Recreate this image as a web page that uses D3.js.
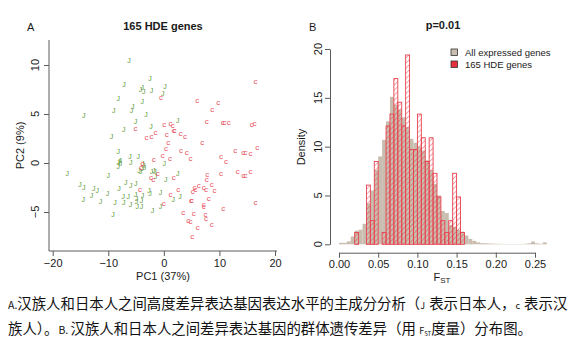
<!DOCTYPE html>
<html><head><meta charset="utf-8">
<script src="https://cdn.jsdelivr.net/npm/d3@7"></script>
<style>body{margin:0;background:#fff}svg{display:block}</style>
</head><body><svg id="c" width="576" height="364"></svg>
<script>
// ---- Panel A: PCA of 165 HDE genes ----
const japanX=[-6.25,-2.5,-7.15,0.2,-4.2,-3.9,-3.6,-2.2,-0.2,-8.2,-3.9,-5.6,-5.8,-9.0,-3.2,-14.4,-5.1,2.5,-7.2,-2.3,-9.4,
 -8.2,-6.1,-4.6,0.05,-8.2,-8.05,-7.8,-8.2,-5.95,-3.8,-3.6,-3.5,-4.45,-4.2,-3.9,-17.4,-10.0,-1.8,2.5,0.35,-15.1,-14.4,-12.6,-12.0,
 -6.85,-5.95,-5.05,-8.05,-10.15,-13.0,-14.5,-11.4,-8.8,-7.3,-6.4,-5.1,-4.9,-3.85,-4.0,-2.65,-0.6,2.9,1.7,-7.2,-6.0,-4.9,-4.8,-4.0,
 -0.6,-2.05,-9.15,-1.5,-2.2,-2.5,-7.9,-1.6];
const japanY=[10.5,8.6,8.0,7.8,7.5,7.7,7.3,7.4,7.1,6.6,6.3,5.8,5.4,5.4,4.9,4.8,4.2,4.3,3.4,3.7,2.7,
 1.2,0.65,0.65,0.0,0.05,0.15,0.0,-0.4,0.07,0.0,-0.3,-0.5,-0.8,-0.9,-0.6,-1.05,-1.3,-0.8,-1.05,-1.7,-2.15,-2.5,-2.65,-2.8,
 -2.0,-2.25,-2.1,-2.65,-3.15,-3.3,-3.7,-3.95,-4.05,-3.4,-3.4,-3.2,-3.6,-3.3,-3.8,-2.85,-3.0,-3.4,-3.7,-4.05,-4.2,-3.95,-4.45,-4.4,
 -4.4,-4.85,-5.3,-1.4,-0.9,-3.1,0.25,-0.9];
const hanX=[16.5,-0.5,6.0,9.8,8.7,7.7,10.6,10.9,11.7,15.8,16.3,-5.1,0.05,1.2,1.6,-1.5,-3.1,-2.2,0.5,1.9,3.0,3.8,0.8,6.9,0.4,3.1,4.1,
 -0.2,1.1,4.8,-1.8,10.3,11.2,12.85,14.3,14.7,15.6,16.8,-3.9,-4.1,-1.1,-2.3,-1.9,1.8,7.8,10.3,13.3,14.3,14.7,15.6,7.7,6.3,8.6,7.2,
 5.5,5.7,7.6,9.1,5.2,-4.3,2.6,1.2,8.1,4.9,7.2,7.2,0.0,16.5,10.7,3.5,5.4,7.5,7.6,4.4,4.8,8.6,6.1,5.1,1.8,5.0];
const hanY=[8.3,6.7,6.4,6.2,5.5,4.2,4.1,4.1,4.1,3.9,4.05,3.5,3.9,4.05,3.8,3.1,2.6,2.7,2.9,3.3,3.0,2.7,2.1,2.1,1.5,1.25,1.05,
 0.75,0.5,0.5,0.4,0.7,0.2,1.25,1.05,1.05,1.0,1.6,-0.1,-0.5,-1.05,-1.5,-1.7,-1.5,-1.15,-1.05,-0.9,-1.3,-1.3,-0.9,-1.7,-2.25,-2.2,-2.5,
 -2.5,-2.7,-2.7,-2.85,-2.9,-2.75,-2.75,-3.2,-3.6,-3.8,-4.2,-4.45,-4.1,-4.0,-4.6,-5.1,-5.2,-5.3,-5.7,-5.9,-6.0,-6.3,-6.6,-7.5,3.3,-3.85];
const pcXTicks=[-20,-10,0,10,20];
const pcYTicks=[-5,0,5,10];

// ---- Panel B: FST histograms ----
const binStarts=[0.000,0.005,0.010,0.015,0.020,0.025,0.030,0.035,0.040,0.045,0.050,0.055,0.060,0.065,0.070,0.075,0.080,0.085,0.090,0.095,
 0.100,0.105,0.110,0.115,0.120,0.125,0.130,0.135,0.140,0.145,0.150,0.155,0.160,0.165,0.170,0.175,0.180,0.185,0.190,0.195,
 0.200,0.205,0.210,0.215,0.220,0.225,0.230,0.235,0.240,0.245,0.250,0.255,0.260];
const allDensity=[0.15,0.15,0.3,0.8,1.4,1.5,2.1,4.2,5.5,7.6,9.0,10.7,12.6,15.1,14.3,13.8,13.0,12.0,10.8,10.4,
 10.0,9.6,8.6,7.6,6.2,5.0,3.4,3.2,2.0,1.8,1.5,1.3,0.9,0.55,0.35,0.2,0.12,0.1,0.08,0.06,
 0.05,0.04,0.03,0.03,0.03,0.03,0.03,0.05,0.1,0.28,0.1,0.05,0.2];
const hdeBinStarts=[0.020,0.025,0.030,0.035,0.040,0.045,0.050,0.055,0.060,0.065,0.070,0.075,0.080,0.085,0.090,0.095,
 0.100,0.105,0.110,0.115,0.120,0.125,0.130,0.135,0.140,0.145,0.150,0.155];
const hdeDensity=[1.21,0,0,6.06,2.42,8.48,0,1.21,12.12,13.33,16.97,14.55,12.12,19.39,9.70,9.70,
 13.33,10.91,8.48,10.91,7.27,4.85,2.42,1.21,2.42,7.27,4.85,1.21];
const binWidth=0.005;
const fstTicks=[0,0.05,0.10,0.15,0.20,0.25];
const densTicks=[0,5,10,15,20];
const legendLabels=["All expressed genes","165 HDE genes"];

const svg=d3.select("#c");
const FONT="'Liberation Sans', Arial, sans-serif";
const axisCol="#5a5a5a", textCol="#1a1a1a";
const grayCol="#c8bdae", redCol="#e8414e";
const minus=s=>String(s).replace("-","\u2212");

// ================= Panel A =================
const xA=d3.scaleLinear([-20,20],[52.7,275]);
const yA=d3.scaleLinear([-5,10],[212,65]);
const gA=svg.append("g");
gA.append("path").attr("d","M49,40V251H277").attr("fill","none").attr("stroke",axisCol).attr("stroke-width",1);
const axA=gA.append("g").attr("transform","translate(0,251)")
 .call(d3.axisBottom(xA).tickValues(pcXTicks).tickSize(5).tickSizeOuter(0).tickFormat(d=>minus(d)));
axA.select(".domain").remove();
axA.selectAll("line").attr("stroke",axisCol);
axA.selectAll("text").attr("font-family",FONT).attr("font-size",11).attr("fill",textCol).attr("y",8);
const ayA=gA.append("g").attr("transform","translate(49,0)")
 .call(d3.axisLeft(yA).tickValues(pcYTicks).tickSize(5).tickSizeOuter(0).tickFormat(""));
ayA.select(".domain").remove();
ayA.selectAll("line").attr("stroke",axisCol);
gA.selectAll("text.ylab").data(pcYTicks).join("text").attr("class","ylab")
 .attr("transform",d=>`translate(39,${yA(d)}) rotate(-90)`).attr("text-anchor","middle")
 .attr("font-family",FONT).attr("font-size",11).attr("fill",textCol).text(d=>minus(d));
const jap=japanX.map((x,i)=>({x,y:japanY[i]}));
const han=hanX.map((x,i)=>({x,y:hanY[i]}));
gA.selectAll("text.jp").data(jap).join("text").attr("class","jp")
 .attr("x",d=>xA(d.x)).attr("y",d=>yA(d.y)+2.5).attr("text-anchor","middle")
 .attr("font-family",FONT).attr("font-size",7).attr("fill","#629b3a").text("J");
gA.selectAll("text.hn").data(han).join("text").attr("class","hn")
 .attr("x",d=>xA(d.x)).attr("y",d=>yA(d.y)+2.5).attr("text-anchor","middle")
 .attr("font-family",FONT).attr("font-size",8).attr("fill","#e8525e").text("c");
gA.append("text").attr("x",163).attr("y",30).attr("text-anchor","middle").attr("font-family",FONT)
 .attr("font-size",11).attr("font-weight","bold").attr("fill",textCol).text("165 HDE genes");
gA.append("text").attr("x",27).attr("y",31).attr("font-family",FONT).attr("font-size",11).attr("fill",textCol).text("A");
gA.append("text").attr("x",163).attr("y",280).attr("text-anchor","middle").attr("font-family",FONT)
 .attr("font-size",11).attr("fill",textCol).text("PC1 (37%)");
gA.append("text").attr("transform","translate(24,145.5) rotate(-90)").attr("text-anchor","middle").attr("font-family",FONT)
 .attr("font-size",11).attr("fill",textCol).text("PC2 (9%)");

// ================= Panel B =================
const xB=d3.scaleLinear([0,0.25],[339,535]);
const yB=d3.scaleLinear([0,20],[244.3,49]);
const defs=svg.append("defs");
const pat=defs.append("pattern").attr("id","hatch").attr("patternUnits","userSpaceOnUse")
 .attr("width",3.6).attr("height",3.6).attr("patternTransform","rotate(45)");
pat.append("line").attr("x1",0).attr("y1",0).attr("x2",0).attr("y2",3.6).attr("stroke",redCol).attr("stroke-width",0.9);
const gB=svg.append("g");
gB.selectAll("rect.all").data(binStarts.map((b,i)=>({b,v:allDensity[i]}))).join("rect").attr("class","all")
 .attr("x",d=>xB(d.b)).attr("width",d=>xB(d.b+binWidth)-xB(d.b))
 .attr("y",d=>yB(d.v)).attr("height",d=>yB(0)-yB(d.v)).attr("fill",grayCol);
gB.selectAll("rect.hde").data(hdeBinStarts.map((b,i)=>({b,v:hdeDensity[i]}))).join("rect").attr("class","hde")
 .attr("x",d=>xB(d.b)).attr("width",d=>xB(d.b+binWidth)-xB(d.b))
 .attr("y",d=>yB(d.v)).attr("height",d=>yB(0)-yB(d.v))
 .attr("fill","url(#hatch)").attr("stroke",redCol).attr("stroke-width",0.9);
const axB=gB.append("g").attr("transform","translate(0,252.7)")
 .call(d3.axisBottom(xB).tickValues(fstTicks).tickSize(5).tickSizeOuter(0).tickFormat(d3.format(".2f")));
axB.select(".domain").attr("stroke",axisCol);
axB.selectAll("line").attr("stroke",axisCol);
axB.selectAll("text").attr("font-family",FONT).attr("font-size",11).attr("fill",textCol).attr("y",8);
const ayB=gB.append("g").attr("transform","translate(330,0)")
 .call(d3.axisLeft(yB).tickValues(densTicks).tickSize(5).tickSizeOuter(0).tickFormat(""));
ayB.select(".domain").attr("stroke",axisCol);
ayB.selectAll("line").attr("stroke",axisCol);
gB.selectAll("text.ylab").data(densTicks).join("text").attr("class","ylab")
 .attr("transform",d=>`translate(322,${yB(d)}) rotate(-90)`).attr("text-anchor","middle")
 .attr("font-family",FONT).attr("font-size",11).attr("fill",textCol).text(d=>d);
gB.append("text").attr("x",443).attr("y",29).attr("text-anchor","middle").attr("font-family",FONT)
 .attr("font-size",11).attr("font-weight","bold").attr("fill",textCol).text("p=0.01");
gB.append("text").attr("x",309).attr("y",31).attr("font-family",FONT).attr("font-size",11).attr("fill",textCol).text("B");
gB.append("text").attr("transform","translate(305,147) rotate(-90)").attr("text-anchor","middle").attr("font-family",FONT)
 .attr("font-size",11).attr("fill",textCol).text("Density");
const fl=gB.append("text").attr("x",442).attr("y",281).attr("text-anchor","middle").attr("font-family",FONT)
 .attr("font-size",11).attr("fill",textCol);
fl.append("tspan").text("F");
fl.append("tspan").attr("font-size",8).attr("dy",2).text("ST");
const leg=gB.append("g");
const legFill=[grayCol,"#e8303c"];
legendLabels.forEach((t,i)=>{
 leg.append("rect").attr("x",451).attr("y",49+i*12).attr("width",6.5).attr("height",6.5)
  .attr("fill",legFill[i]).attr("stroke","#333").attr("stroke-width",0.8);
 leg.append("text").attr("x",465).attr("y",56+i*12).attr("font-family",FONT).attr("font-size",9.5)
  .attr("fill",textCol).text(t);
});

// ================= Caption =================
const CJK="'Noto Sans CJK SC', sans-serif";
const captionLines=[
 [["A.",10.5],["汉族人和日本人之间高度差异表达基因表达水平的主成分分析（",14.4],["J  ",9],["表示日本人，",14.4],["c  ",9],["表示汉",14.4]],
 [["族人）。",14.4],["B. ",10.5],["汉族人和日本人之间差异表达基因的群体遗传差异（用 ",14.4],["F",9],["ST",6],["度量）分布图。",14.4]]
];
captionLines.forEach((line,li)=>{
 const t=svg.append("text").attr("x",8).attr("y",309+li*25).attr("font-family",CJK).attr("fill","#111")
  .attr("xml:space","preserve").style("white-space","pre");
 line.forEach(([s,fs])=>{
  const sp=t.append("tspan").attr("font-size",fs).text(s);
  if(s==="ST") sp.attr("dy",2);
  if(s.startsWith("度量")) sp.attr("dy",-2);
 });
});
</script></body></html>
